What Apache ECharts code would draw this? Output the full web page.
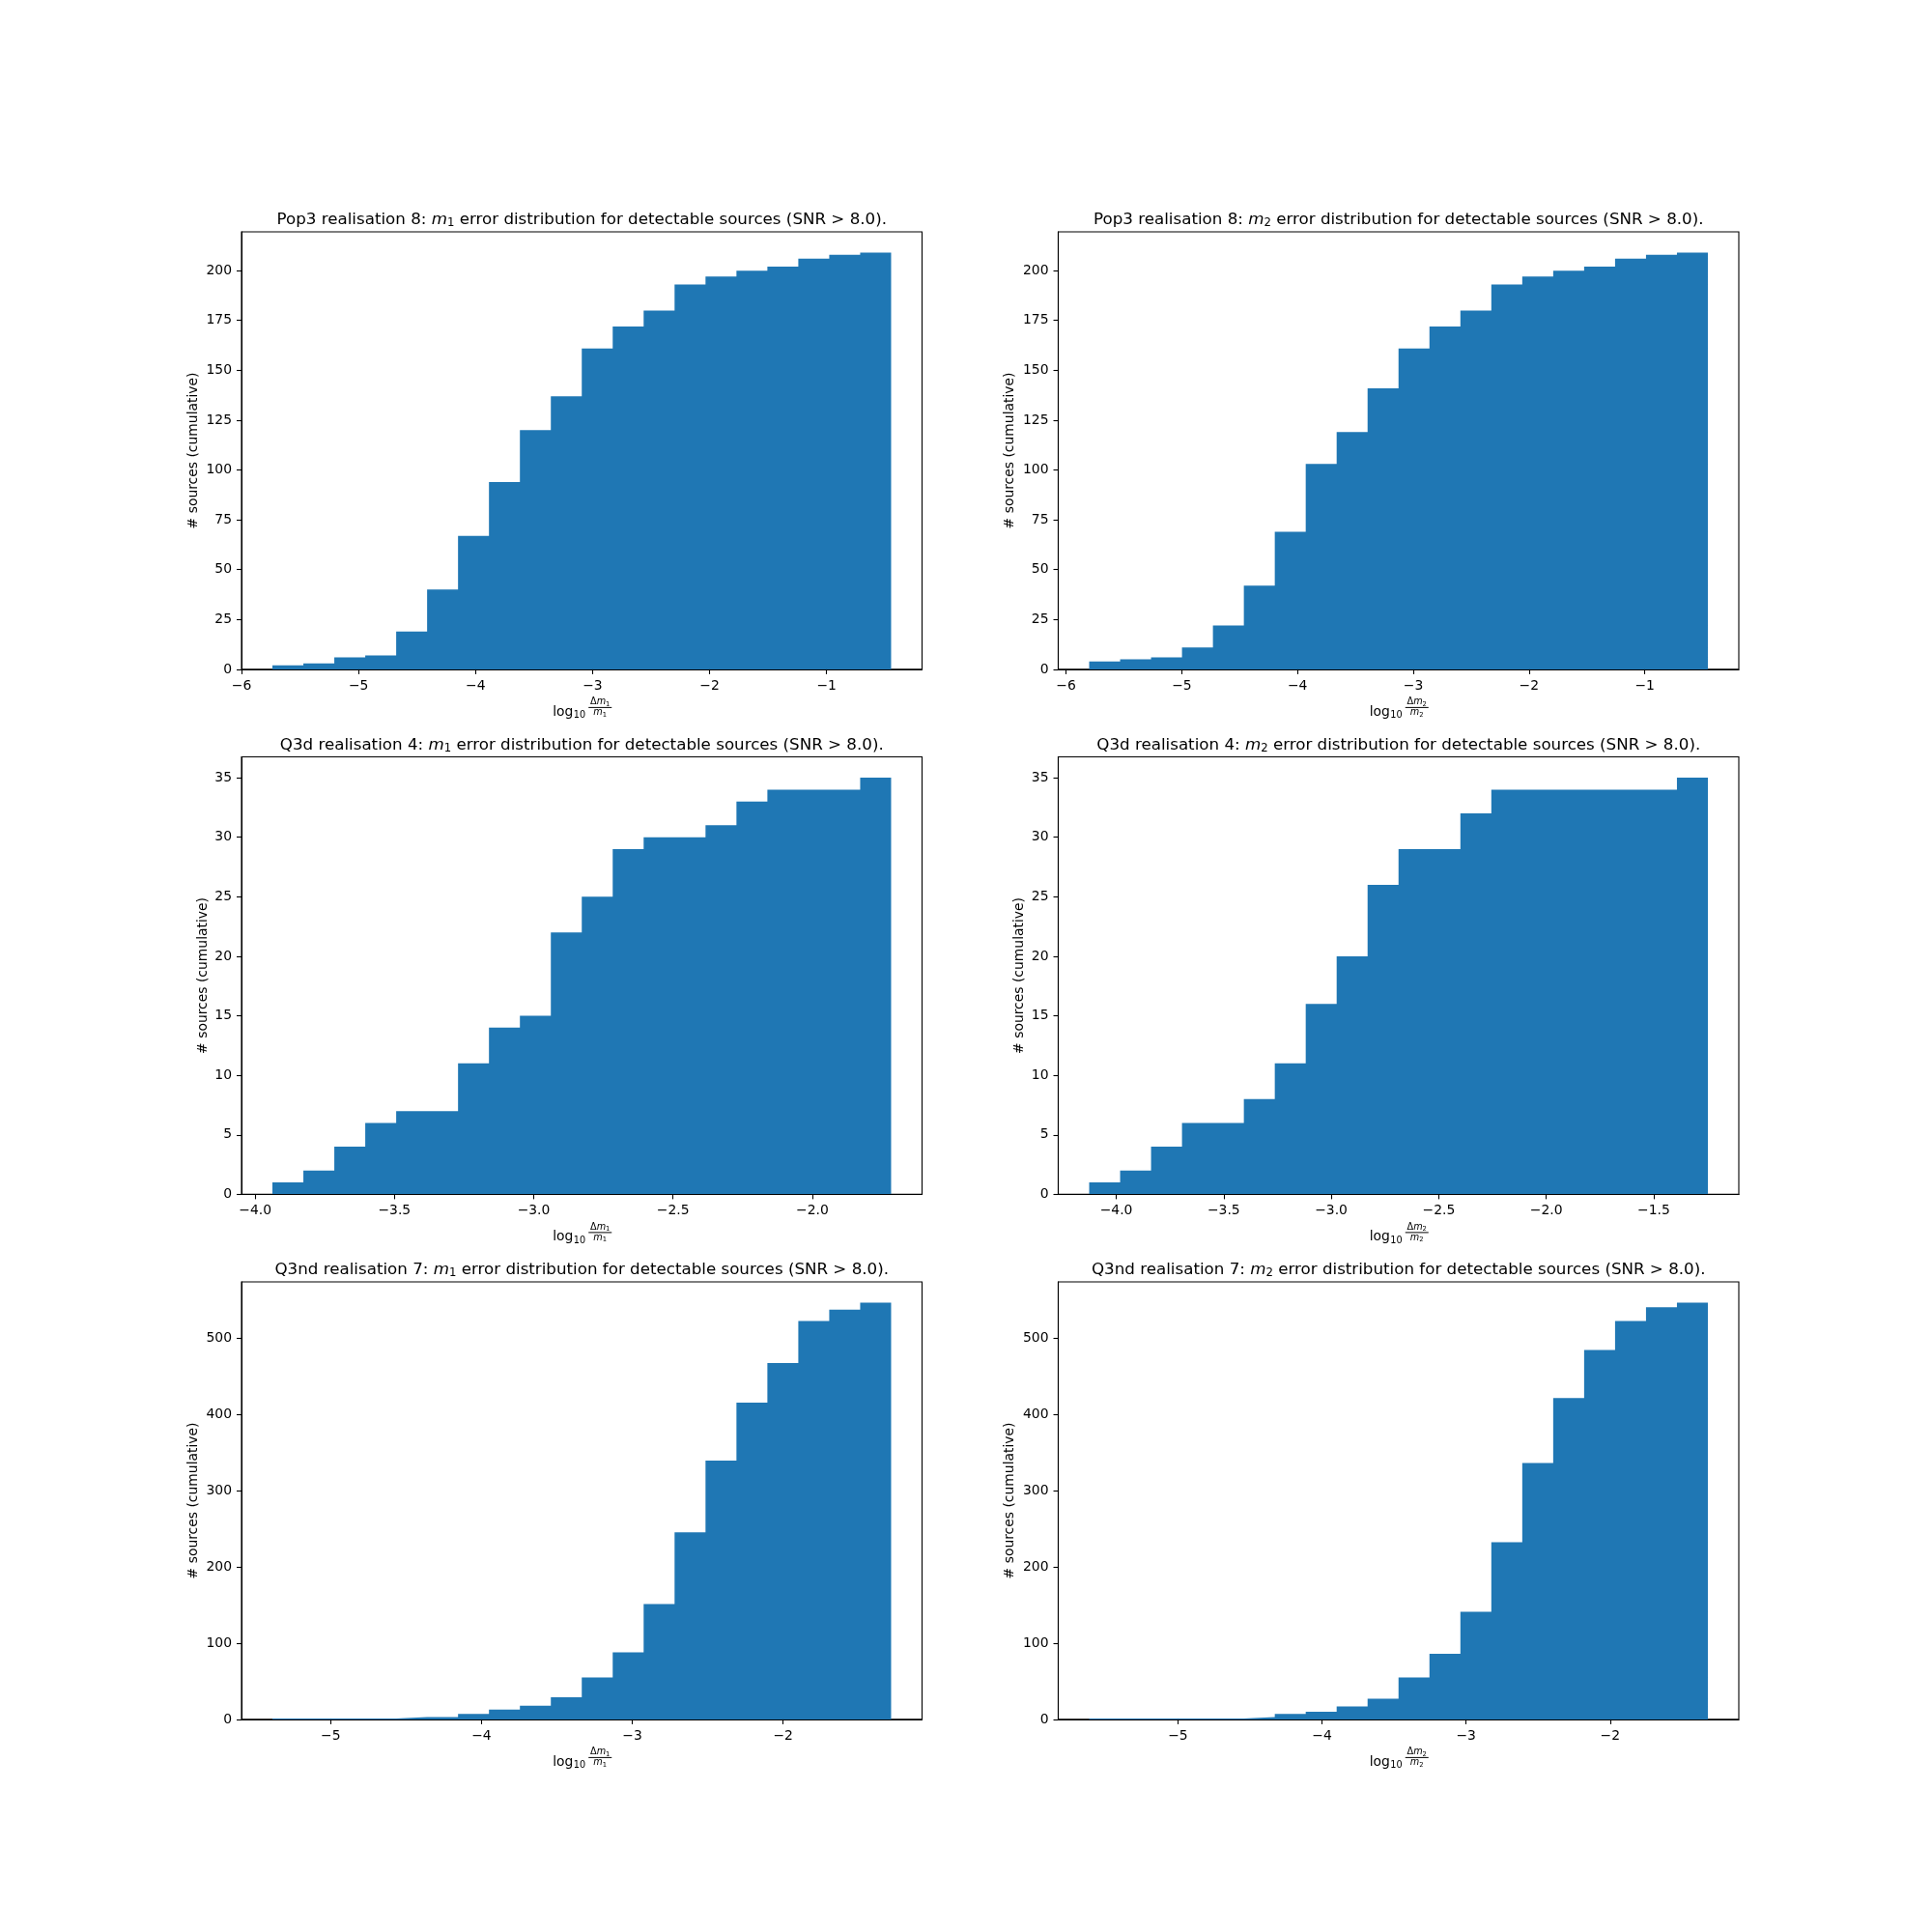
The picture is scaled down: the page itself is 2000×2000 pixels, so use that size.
<!DOCTYPE html>
<html><head><meta charset="utf-8">
<script src="https://cdn.jsdelivr.net/npm/echarts@6/dist/echarts.min.js"></script>
<style>html,body{margin:0;padding:0;background:#fff}#c{width:2000px;height:2000px}</style>
</head><body><div id="c"></div>
<script>
// ---------- data ----------
const pop3M1Counts = [2,3,6,7,19,40,67,94,120,137,161,172,180,193,197,200,202,206,208,209];
const pop3M1Range = [-5.736, -0.448];
const pop3M2Counts = [4,5,6,11,22,42,69,103,119,141,161,172,180,193,197,200,202,206,208,209];
const pop3M2Range = [-5.800, -0.455];
const q3dM1Counts = [1,2,4,6,7,7,11,14,15,22,25,29,30,30,31,33,34,34,34,35];
const q3dM1Range = [-3.938, -1.717];
const q3dM2Counts = [1,2,4,6,6,8,11,16,20,26,29,29,32,34,34,34,34,34,34,35];
const q3dM2Range = [-4.126, -1.248];
const q3ndM1Counts = [1,1,1,1,3,3,7,13,18,29,55,88,151,245,339,415,467,522,537,546];
const q3ndM1Range = [-5.386, -1.284];
const q3ndM2Counts = [1,1,1,1,1,3,7,10,17,27,55,86,141,232,336,421,484,522,540,546];
const q3ndM2Range = [-5.616, -1.322];

const xTicksPop3 = [-6,-5,-4,-3,-2,-1];
const xTicksQ3dM1 = [-4,-3.5,-3,-2.5,-2];
const xTicksQ3dM2 = [-4,-3.5,-3,-2.5,-2,-1.5];
const xTicksQ3nd = [-5,-4,-3,-2];
const yTicksPop3 = [0,25,50,75,100,125,150,175,200];
const yTicksQ3d = [0,5,10,15,20,25,30,35];
const yTicksQ3nd = [0,100,200,300,400,500];

const titlePrefixes = ['Pop3 realisation 8: ','Pop3 realisation 8: ','Q3d realisation 4: ','Q3d realisation 4: ','Q3nd realisation 7: ','Q3nd realisation 7: '];
const massIdx = ['1','2','1','2','1','2'];
const titleSuffix = ' error distribution for detectable sources (SNR > 8.0).';
const yLabel = '# sources (cumulative)';

// ---------- layout ----------
const colLeft = [250, 1095.5], W = 704.5;
const rowTop = [240, 783.5, 1327], H = 452.9;
const COLOR = '#1f77b4';
const FONT = "'DejaVu Sans', sans-serif";

const panels = [
  {counts: pop3M1Counts, range: pop3M1Range, xt: xTicksPop3, yt: yTicksPop3, dec: 0, gap: 43},
  {counts: pop3M2Counts, range: pop3M2Range, xt: xTicksPop3, yt: yTicksPop3, dec: 0, gap: 43},
  {counts: q3dM1Counts, range: q3dM1Range, xt: xTicksQ3dM1, yt: yTicksQ3d, dec: 1, gap: 33},
  {counts: q3dM2Counts, range: q3dM2Range, xt: xTicksQ3dM2, yt: yTicksQ3d, dec: 1, gap: 33},
  {counts: q3ndM1Counts, range: q3ndM1Range, xt: xTicksQ3nd, yt: yTicksQ3nd, dec: 0, gap: 43},
  {counts: q3ndM2Counts, range: q3ndM2Range, xt: xTicksQ3nd, yt: yTicksQ3nd, dec: 0, gap: 43}
];

const fmt = (v, d) => (v < 0 ? '\u2212' : '') + Math.abs(v).toFixed(d);

const grids = [], xAxes = [], yAxes = [], series = [], graphics = [];
panels.forEach((p, i) => {
  const col = i % 2, row = Math.floor(i / 2);
  const left = colLeft[col], top = rowTop[row];
  grids.push({left: left, top: top, width: W, height: H, show: true, borderColor: '#000', borderWidth: 1.1, backgroundColor: 'transparent'});
  const n = p.counts.length;
  const lo = p.range[0], hi = p.range[1];
  const edges = [];
  for (let k = 0; k <= n; k++) edges.push(lo + (hi - lo) * k / n);
  const pad = 0.05 * (hi - lo);
  const ymax = 1.05 * Math.max(...p.counts);
  xAxes.push({
    gridIndex: i, type: 'value', min: lo - pad, max: hi + pad, z: 5,
    axisLine: {show: true, onZero: false, lineStyle: {color: '#000', width: 1.1}},
    axisTick: {show: true, length: 5, lineStyle: {color: '#000', width: 1.1}, customValues: p.xt},
    axisLabel: {show: true, customValues: p.xt, margin: 10, color: '#000', fontSize: 13.9, fontFamily: FONT,
      formatter: v => fmt(v, p.dec)},
    splitLine: {show: false}
  });
  yAxes.push({
    gridIndex: i, type: 'value', min: 0, max: ymax, z: 5,
    name: yLabel, nameLocation: 'middle', nameRotate: 90, nameGap: p.gap,
    nameTextStyle: {fontSize: 13.9, fontFamily: FONT, color: '#000'},
    axisLine: {show: true, lineStyle: {color: '#000', width: 1.1}},
    axisTick: {show: true, length: 5, lineStyle: {color: '#000', width: 1.1}, customValues: p.yt},
    axisLabel: {show: true, customValues: p.yt, margin: 10, color: '#000', fontSize: 13.9, fontFamily: FONT,
      formatter: v => String(v)},
    splitLine: {show: false}
  });
  const data = p.counts.map((c, k) => [edges[k], c]);
  data.push([edges[n], p.counts[n - 1]]);
  series.push({
    type: 'line', xAxisIndex: i, yAxisIndex: i, step: 'end', data: data,
    symbol: 'none', lineStyle: {width: 0, opacity: 0}, areaStyle: {color: COLOR, opacity: 1},
    silent: true, animation: false, z: 2
  });
  const cx = left + W / 2;
  // title
  graphics.push({
    type: 'text', x: cx, y: top - 3, z: 10,
    style: {
      text: titlePrefixes[i] + '{it|m}{sub|' + massIdx[i] + '}' + titleSuffix,
      fontSize: 16.7, fontFamily: FONT, fill: '#000', align: 'center', verticalAlign: 'bottom',
      rich: {
        it: {fontSize: 16.7, fontStyle: 'italic', fontFamily: FONT, fill: '#000'},
        sub: {fontSize: 11.7, fontFamily: FONT, fill: '#000', padding: [6, 0, 0, 0]}
      }
    }
  });
  // x label: log10 (Δm_k / m_k)
  const by = top + H;
  graphics.push({type: 'text', x: cx - 30, y: by + 44, z: 10,
    style: {text: 'log', fontSize: 13.9, fontFamily: FONT, fill: '#000', align: 'left', verticalAlign: 'middle'}});
  graphics.push({type: 'text', x: cx - 8.5, y: by + 48, z: 10,
    style: {text: '10', fontSize: 9.7, fontFamily: FONT, fill: '#000', align: 'left', verticalAlign: 'middle'}});
  graphics.push({type: 'text', x: cx + 19, y: by + 34, z: 10,
    style: {text: '\u0394{it|m}{sub|' + massIdx[i] + '}', fontSize: 9.7, fontFamily: FONT, fill: '#000', align: 'center', verticalAlign: 'middle',
      rich: {it: {fontSize: 9.7, fontStyle: 'italic', fontFamily: FONT, fill: '#000'}, sub: {fontSize: 6.8, fontFamily: FONT, fill: '#000', padding: [4, 0, 0, 0]}}}});
  graphics.push({type: 'line', z: 10, shape: {x1: cx + 7, y1: by + 39.5, x2: cx + 31, y2: by + 39.5}, style: {stroke: '#000', lineWidth: 1}});
  graphics.push({type: 'text', x: cx + 19, y: by + 45, z: 10,
    style: {text: '{it|m}{sub|' + massIdx[i] + '}', fontSize: 9.7, fontFamily: FONT, fill: '#000', align: 'center', verticalAlign: 'middle',
      rich: {it: {fontSize: 9.7, fontStyle: 'italic', fontFamily: FONT, fill: '#000'}, sub: {fontSize: 6.8, fontFamily: FONT, fill: '#000', padding: [4, 0, 0, 0]}}}});
});

const chart = echarts.init(document.getElementById('c'), null, {renderer: 'canvas'});
chart.setOption({
  backgroundColor: '#fff',
  animation: false,
  grid: grids, xAxis: xAxes, yAxis: yAxes, series: series,
  graphic: {elements: graphics}
});
</script>
</body></html>
